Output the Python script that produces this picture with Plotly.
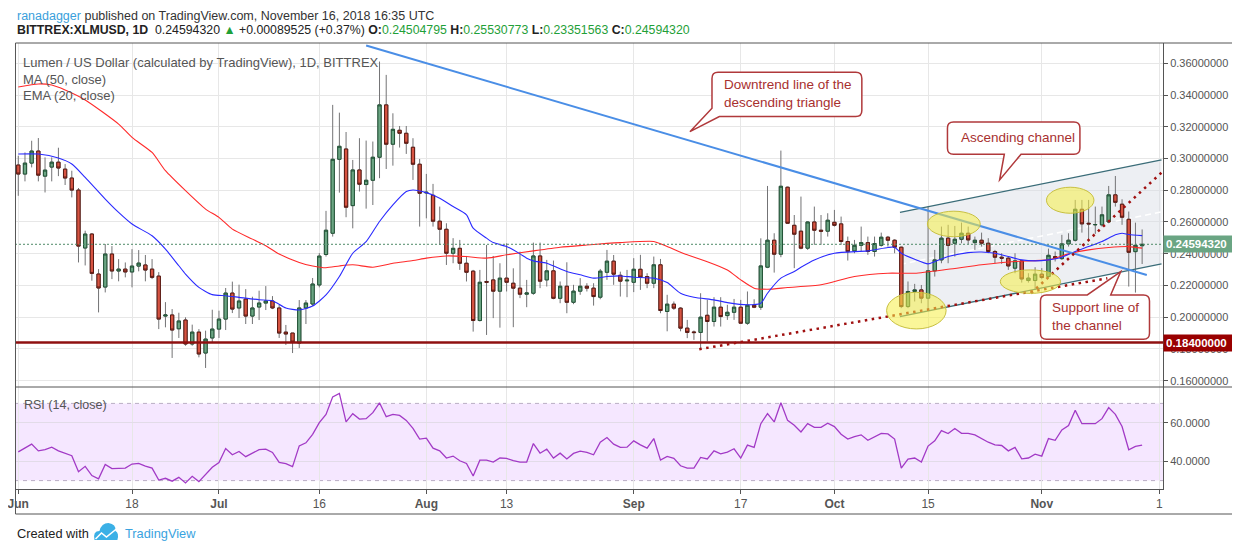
import numpy as np
import pandas as pd
import plotly.graph_objects as go

# ---------------- DATA ----------------
start = pd.Timestamp("2018-06-01")
dates = pd.date_range("2018-06-01", "2018-11-16", freq="D")

opens = [0.2959, 0.2902, 0.2971, 0.3047, 0.2889, 0.2946, 0.2977, 0.2933, 0.2877, 0.2801,
         0.2436, 0.2524, 0.2272, 0.2190, 0.2398, 0.2291, 0.2303, 0.2285, 0.2322, 0.2329,
         0.2303, 0.2259, 0.2007, 0.2014, 0.1927, 0.1982, 0.1831, 0.1906, 0.1774, 0.1869,
         0.1925, 0.1988, 0.2152, 0.2058, 0.2114, 0.2007, 0.2064, 0.2089, 0.2102, 0.2058,
         0.1906, 0.1900, 0.1837, 0.2058, 0.2083, 0.2203, 0.2395, 0.2529, 0.2995, 0.3060,
         0.2703, 0.2928, 0.2836, 0.2863, 0.3008, 0.3338, 0.3090, 0.3178, 0.3159, 0.3071,
         0.2964, 0.2783, 0.2768, 0.2605, 0.2554, 0.2403, 0.2434, 0.2340, 0.2290, 0.1979,
         0.2225, 0.2235, 0.2164, 0.2246, 0.2214, 0.2183, 0.2145, 0.2151, 0.2386, 0.2235,
         0.2292, 0.2119, 0.2195, 0.2094, 0.2164, 0.2195, 0.2183, 0.2126, 0.2283, 0.2353,
         0.2264, 0.2229, 0.2220, 0.2302, 0.2256, 0.2214, 0.2330, 0.2036, 0.2082, 0.2057,
         0.1931, 0.1907, 0.1904, 0.2012, 0.1973, 0.2063, 0.2010, 0.2031, 0.2063, 0.1962,
         0.2075, 0.2063, 0.2315, 0.2485, 0.2397, 0.2819, 0.2579, 0.2542, 0.2435, 0.2600,
         0.2548, 0.2542, 0.2598, 0.2588, 0.2477, 0.2418, 0.2453, 0.2470, 0.2414, 0.2453,
         0.2504, 0.2485, 0.2441, 0.2067, 0.2162, 0.2172, 0.2120, 0.2292, 0.2361, 0.2498,
         0.2466, 0.2491, 0.2529, 0.2470, 0.2485, 0.2466, 0.2414, 0.2378, 0.2372, 0.2309,
         0.2355, 0.2231, 0.2231, 0.2271, 0.2256, 0.2382, 0.2369, 0.2462, 0.2485, 0.2680,
         0.2592, 0.2582, 0.2582, 0.2600, 0.2771, 0.2712, 0.2617, 0.2413, 0.24504795]
highs = [0.3017, 0.3038, 0.3112, 0.3129, 0.3007, 0.3007, 0.3068, 0.2965, 0.2923, 0.2814,
         0.2545, 0.2530, 0.2303, 0.2461, 0.2448, 0.2366, 0.2345, 0.2429, 0.2423, 0.2392,
         0.2366, 0.2284, 0.2095, 0.2051, 0.2028, 0.1999, 0.1953, 0.1925, 0.1915, 0.2047,
         0.2041, 0.2184, 0.2224, 0.2205, 0.2177, 0.2129, 0.2167, 0.2196, 0.2133, 0.2077,
         0.1951, 0.1900, 0.2108, 0.2108, 0.2247, 0.2404, 0.2670, 0.3338, 0.3289, 0.3167,
         0.2991, 0.3128, 0.3113, 0.3107, 0.3611, 0.3527, 0.3285, 0.3205, 0.3205, 0.3128,
         0.2997, 0.2903, 0.2840, 0.2697, 0.2592, 0.2498, 0.2487, 0.2386, 0.2298, 0.2298,
         0.2455, 0.2386, 0.2340, 0.2466, 0.2308, 0.2413, 0.2235, 0.2470, 0.2470, 0.2361,
         0.2357, 0.2225, 0.2346, 0.2204, 0.2246, 0.2214, 0.2214, 0.2304, 0.2424, 0.2392,
         0.2287, 0.2298, 0.2372, 0.2393, 0.2277, 0.2382, 0.2367, 0.2141, 0.2099, 0.2063,
         0.1983, 0.1916, 0.2151, 0.2109, 0.2126, 0.2126, 0.2078, 0.2115, 0.2109, 0.2162,
         0.2113, 0.2497, 0.2827, 0.2529, 0.3050, 0.2823, 0.2644, 0.2760, 0.2605, 0.2697,
         0.2644, 0.2655, 0.2676, 0.2634, 0.2508, 0.2487, 0.2571, 0.2508, 0.2508, 0.2533,
         0.2512, 0.2491, 0.2445, 0.2225, 0.2210, 0.2203, 0.2697, 0.2424, 0.2571, 0.2582,
         0.2575, 0.2596, 0.2571, 0.2508, 0.2533, 0.2498, 0.2424, 0.2403, 0.2382, 0.2403,
         0.2361, 0.2277, 0.2315, 0.2309, 0.2432, 0.2414, 0.2519, 0.2529, 0.2739, 0.2739,
         0.2739, 0.2697, 0.2697, 0.2827, 0.2890, 0.2743, 0.2666, 0.2596, 0.25530773]
lows = [0.2765, 0.2856, 0.2944, 0.2856, 0.2786, 0.2856, 0.2889, 0.2833, 0.2755, 0.2345,
        0.2326, 0.2230, 0.2030, 0.2156, 0.2240, 0.2226, 0.2251, 0.2188, 0.2289, 0.2226,
        0.2240, 0.1925, 0.1936, 0.1743, 0.1869, 0.1820, 0.1820, 0.1747, 0.1680, 0.1837,
        0.1869, 0.1919, 0.2026, 0.1995, 0.1957, 0.1957, 0.1982, 0.2045, 0.2051, 0.1869,
        0.1825, 0.1774, 0.1806, 0.1957, 0.2070, 0.2188, 0.2382, 0.2508, 0.2785, 0.2630,
        0.2560, 0.2792, 0.2684, 0.2707, 0.2876, 0.2934, 0.2955, 0.3069, 0.3029, 0.2865,
        0.2571, 0.2623, 0.2571, 0.2455, 0.2329, 0.2340, 0.2298, 0.2225, 0.1909, 0.1973,
        0.1888, 0.1994, 0.1934, 0.2162, 0.1937, 0.2120, 0.2063, 0.2141, 0.2183, 0.2193,
        0.2113, 0.2088, 0.2025, 0.2082, 0.2141, 0.2162, 0.2073, 0.2113, 0.2235, 0.2204,
        0.2130, 0.2126, 0.2158, 0.2172, 0.2183, 0.2183, 0.2025, 0.1911, 0.2046, 0.1911,
        0.1868, 0.1857, 0.1805, 0.1847, 0.1941, 0.1941, 0.1983, 0.1983, 0.1958, 0.1952,
        0.2057, 0.2046, 0.2309, 0.2281, 0.2378, 0.2588, 0.2309, 0.2428, 0.2424, 0.2456,
        0.2456, 0.2508, 0.2571, 0.2456, 0.2357, 0.2403, 0.2414, 0.2393, 0.2382, 0.2445,
        0.2445, 0.2403, 0.2057, 0.2057, 0.2099, 0.2088, 0.2046, 0.2256, 0.2340, 0.2340,
        0.2382, 0.2466, 0.2460, 0.2424, 0.2445, 0.2403, 0.2340, 0.2336, 0.2298, 0.2277,
        0.2218, 0.2218, 0.2172, 0.2239, 0.2246, 0.2351, 0.2361, 0.2445, 0.2477, 0.2533,
        0.2487, 0.2525, 0.2571, 0.2592, 0.2697, 0.2582, 0.2193, 0.2155, 0.23351563]
closes = [0.2902, 0.2971, 0.3047, 0.2895, 0.2927, 0.2977, 0.2940, 0.2877, 0.2801, 0.2448,
          0.2524, 0.2276, 0.2184, 0.2398, 0.2291, 0.2303, 0.2285, 0.2322, 0.2341, 0.2297,
          0.2251, 0.1988, 0.2014, 0.1919, 0.1976, 0.1831, 0.1906, 0.1768, 0.1862, 0.1925,
          0.1988, 0.2152, 0.2051, 0.2102, 0.2007, 0.2058, 0.2089, 0.2102, 0.2058, 0.1900,
          0.1894, 0.1843, 0.2058, 0.2089, 0.2209, 0.2385, 0.2548, 0.2995, 0.3077, 0.2693,
          0.2928, 0.2838, 0.2863, 0.3008, 0.3338, 0.3090, 0.3184, 0.3159, 0.3096, 0.2964,
          0.2781, 0.2787, 0.2605, 0.2554, 0.2403, 0.2434, 0.2340, 0.2283, 0.1979, 0.2220,
          0.2220, 0.2164, 0.2246, 0.2220, 0.2183, 0.2145, 0.2153, 0.2386, 0.2227, 0.2292,
          0.2119, 0.2195, 0.2094, 0.2164, 0.2195, 0.2183, 0.2130, 0.2290, 0.2353, 0.2271,
          0.2227, 0.2233, 0.2302, 0.2252, 0.2214, 0.2330, 0.2042, 0.2082, 0.2057, 0.1931,
          0.1904, 0.1903, 0.2000, 0.1973, 0.2063, 0.2004, 0.2031, 0.2063, 0.1962, 0.2075,
          0.2063, 0.2323, 0.2485, 0.2397, 0.2825, 0.2592, 0.2523, 0.2435, 0.2600, 0.2548,
          0.2542, 0.2611, 0.2579, 0.2477, 0.2413, 0.2453, 0.2470, 0.2414, 0.2464, 0.2504,
          0.2485, 0.2441, 0.2067, 0.2162, 0.2172, 0.2120, 0.2292, 0.2361, 0.2498, 0.2453,
          0.2491, 0.2529, 0.2487, 0.2485, 0.2466, 0.2414, 0.2378, 0.2372, 0.2323, 0.2355,
          0.2241, 0.2246, 0.2271, 0.2250, 0.2390, 0.2372, 0.2462, 0.2485, 0.2680, 0.2588,
          0.2588, 0.2584, 0.2645, 0.2771, 0.2724, 0.2630, 0.2409, 0.2453, 0.24594320]

# MA (50) and EMA (20): day index since 2018-06-01 -> value
ma50_day = [0, 3, 5, 7, 10, 15, 17, 20, 22, 25, 28, 30, 32, 35, 37, 39, 42, 44, 46, 48,
            50, 53, 56, 59, 61, 64, 67, 70, 73, 77, 81, 85, 88, 90, 95, 97, 100, 103, 106,
            108, 110, 112, 115, 120, 125, 130, 134, 139, 144, 149, 154, 157, 160, 163, 166, 168]
ma50_val = [0.3451, 0.3470, 0.3463, 0.3432, 0.3369, 0.3217, 0.3133, 0.3038, 0.2923, 0.2797,
            0.2681, 0.2629, 0.2555, 0.2492, 0.2450, 0.2398, 0.2345, 0.2323, 0.2312, 0.2323,
            0.2330, 0.2315, 0.2340, 0.2357, 0.2372, 0.2386, 0.2382, 0.2372, 0.2393, 0.2418,
            0.2441, 0.2455, 0.2465, 0.2470, 0.2477, 0.2445, 0.2393, 0.2350, 0.2298, 0.2235,
            0.2183, 0.2176, 0.2187, 0.2204, 0.2256, 0.2277, 0.2277, 0.2302, 0.2330, 0.2351,
            0.2361, 0.2399, 0.2424, 0.2439, 0.2445, 0.2435]
ema20_day = [0, 3, 6, 8, 10, 13, 15, 17, 20, 22, 24, 25, 27, 29, 31, 33, 36, 38, 40, 42,
             44, 46, 48, 50, 52, 54, 56, 58, 59, 61, 63, 65, 67, 68, 70, 71, 73, 75, 76, 77,
             79, 82, 84, 86, 88, 90, 92, 95, 97, 99, 101, 104, 106, 109, 111, 112, 114, 116,
             117, 119, 122, 127, 130, 131, 132, 134, 136, 137, 139, 142, 144, 146, 148, 150,
             152, 154, 156, 158, 160, 162, 164, 165, 166, 168]
ema20_val = [0.3028, 0.3028, 0.3003, 0.2965, 0.2881, 0.2744, 0.2660, 0.2587, 0.2513, 0.2429,
             0.2324, 0.2272, 0.2188, 0.2142, 0.2135, 0.2125, 0.2110, 0.2104, 0.2058, 0.2045,
             0.2070, 0.2140, 0.2256, 0.2403, 0.2476, 0.2603, 0.2708, 0.2792, 0.2802, 0.2785,
             0.2750, 0.2697, 0.2645, 0.2561, 0.2498, 0.2470, 0.2445, 0.2399, 0.2372, 0.2355,
             0.2340, 0.2288, 0.2267, 0.2246, 0.2256, 0.2260, 0.2252, 0.2246, 0.2218, 0.2151,
             0.2126, 0.2109, 0.2092, 0.2078, 0.2088, 0.2151, 0.2246, 0.2288, 0.2315, 0.2361,
             0.2403, 0.2418, 0.2439, 0.2441, 0.2403, 0.2365, 0.2336, 0.2350, 0.2382, 0.2407,
             0.2411, 0.2403, 0.2382, 0.2361, 0.2355, 0.2361, 0.2378, 0.2414, 0.2445, 0.2477,
             0.2519, 0.2529, 0.2521, 0.2514]

# RSI (14)
rsi_day = [0, 2, 3, 4, 5, 6, 8, 9, 10, 11, 12, 13, 14, 15, 16, 17, 18, 19, 20, 21, 22, 23,
           24, 25, 26, 27, 28, 29, 30, 31, 32, 33, 34, 35, 36, 37, 38, 39, 40, 41, 42, 43,
           44, 45, 46, 47, 48, 49, 50, 51, 52, 53, 54, 55, 56, 57, 58, 59, 60, 61, 62, 63,
           64, 65, 66, 67, 68, 69, 70, 71, 72, 73, 74, 75, 76, 77, 78, 79, 80, 81, 82, 83,
           84, 85, 86, 87, 88, 89, 90, 91, 92, 93, 94, 95, 96, 97, 98, 99, 100, 101, 102,
           103, 104, 105, 106, 107, 108, 109, 110, 111, 112, 113, 114, 115, 116, 117, 118,
           119, 120, 121, 122, 123, 124, 125, 126, 127, 128, 129, 130, 131, 132, 133, 134,
           135, 136, 137, 138, 139, 140, 141, 142, 143, 145, 146, 147, 148, 149, 150, 151,
           152, 153, 154, 155, 156, 157, 158, 159, 160, 161, 162, 163, 164, 165, 166, 167, 168]
rsi_val = [44.9, 48.9, 45.4, 46.0, 47.3, 45.4, 42.9, 34.6, 37.4, 32.6, 30.9, 38.4, 36.2,
           36.5, 36.5, 38.6, 38.9, 37.5, 36.5, 30.3, 31.2, 29.7, 31.7, 28.8, 32.2, 29.5,
           33.4, 36.9, 39.4, 46.6, 43.4, 45.1, 42.4, 44.4, 46.0, 46.3, 44.6, 39.4, 38.8,
           37.2, 48.0, 49.6, 54.0, 60.0, 64.3, 73.4, 75.2, 60.4, 64.7, 61.9, 62.1, 65.2,
           70.3, 63.1, 64.3, 63.8, 61.2, 57.1, 51.5, 52.0, 46.8, 45.4, 41.7, 42.7, 40.3,
           38.9, 32.4, 40.6, 40.6, 39.6, 41.7, 41.5, 40.3, 39.6, 39.6, 49.2, 44.2, 46.3,
           41.7, 44.2, 41.2, 44.1, 45.3, 44.6, 43.4, 49.9, 52.3, 48.9, 47.2, 47.3, 50.6,
           48.5, 46.8, 51.8, 40.6, 42.5, 41.5, 37.7, 36.5, 36.5, 42.0, 41.2, 45.4, 43.9,
           44.8, 46.5, 41.7, 48.4, 47.2, 59.5, 64.7, 60.4, 70.3, 61.2, 58.7, 55.2, 59.5,
           57.6, 57.6, 59.7, 58.0, 54.0, 51.5, 52.8, 53.7, 50.9, 52.8, 54.5, 54.2, 51.5,
           36.5, 41.2, 41.7, 39.6, 47.9, 50.6, 55.9, 54.4, 57.0, 54.5, 54.5, 53.7, 49.9,
           48.5, 48.2, 45.4, 47.2, 41.3, 41.7, 43.7, 42.7, 51.8, 50.9, 56.3, 58.5, 66.4,
           59.5, 59.5, 59.5, 62.1, 67.8, 64.3, 58.0, 46.0, 47.7, 48.4]

tick_dates = ["2018-06-01", "2018-06-18", "2018-07-01", "2018-07-16", "2018-08-01",
              "2018-08-13", "2018-09-01", "2018-09-17", "2018-10-01", "2018-10-15",
              "2018-11-01", "2018-11-18 14:00"]
tick_text = ["<b>Jun</b>", "18", "<b>Jul</b>", "16", "<b>Aug</b>", "13", "<b>Sep</b>", "17",
             "<b>Oct</b>", "15", "<b>Nov</b>", "1"]

support_level = 0.184

# ---------------- helpers ----------------
def dayof(d):
    return (pd.Timestamp(d) - start) / pd.Timedelta(days=1)

x = np.array([dayof(d) for d in dates])
tick_x = [dayof(d) for d in tick_dates]
o = np.array(opens); h = np.array(highs); l = np.array(lows); c = np.array(closes)
last_price = closes[-1]

# page body has an 8px margin: figure is drawn offset by (8, 8) in the window
OFF = 8
W, H = 1240 - OFF, 551 - OFF
ML, MR, MT, MB = 0, 77, 43 - OFF, 62
PW, PH = W - ML - MR, H - MT - MB
def px(xs):          # screen x -> paper
    return (xs - OFF - ML) / PW
def py(ys):          # screen y -> paper
    return (H - MB - (ys - OFF)) / PH

SPLIT = py(387)
FONT = "Liberation Sans, Arial, sans-serif"
GRID = "#e7e7e7"
FRAME = "#555555"

UP_FILL, UP_LINE = "#6ba583", "#225437"
DN_FILL, DN_LINE = "#d75442", "#5b1a13"
WICK = "#737375"

fig = go.Figure()

# wicks
fig.add_trace(go.Candlestick(
    x=x, open=o, high=h, low=l, close=c, xaxis="x", yaxis="y",
    increasing=dict(line=dict(color=WICK, width=1), fillcolor=WICK),
    decreasing=dict(line=dict(color=WICK, width=1), fillcolor=WICK),
    whiskerwidth=0, hoverinfo="skip", showlegend=False))
# bodies
fig.add_trace(go.Candlestick(
    x=x, open=o, high=np.maximum(o, c), low=np.minimum(o, c), close=c, xaxis="x", yaxis="y",
    increasing=dict(line=dict(color=UP_LINE, width=1), fillcolor=UP_FILL),
    decreasing=dict(line=dict(color=DN_LINE, width=1), fillcolor=DN_FILL),
    whiskerwidth=0, showlegend=False))

fig.add_trace(go.Scatter(x=ma50_day, y=ma50_val, mode="lines", xaxis="x", yaxis="y",
                         line=dict(color="#ff2a2a", width=1.1, shape="spline", smoothing=0.6),
                         showlegend=False, hoverinfo="skip"))
fig.add_trace(go.Scatter(x=ema20_day, y=ema20_val, mode="lines", xaxis="x", yaxis="y",
                         line=dict(color="#2a2aff", width=1.1, shape="spline", smoothing=0.6),
                         showlegend=False, hoverinfo="skip"))
fig.add_trace(go.Scatter(x=rsi_day, y=rsi_val, mode="lines", xaxis="x", yaxis="y2",
                         line=dict(color="#a23ac6", width=1.3),
                         showlegend=False, hoverinfo="skip"))

shapes = []
# RSI band
shapes.append(dict(type="rect", xref="paper", yref="y2", x0=0, x1=1, y0=30, y1=70,
                   fillcolor="rgba(153,21,255,0.10)", line=dict(width=0), layer="between"))
for lvl in (30, 70):
    shapes.append(dict(type="line", xref="paper", yref="y2", x0=0, x1=1, y0=lvl, y1=lvl,
                       line=dict(color="#b9aec4", width=1, dash="4px,4px"), layer="between"))

# ascending channel
ch_x0, ch_x1 = 131.8, 170.9
ch_up0, ch_up1 = 0.2661, 0.2991
ch_lo0, ch_lo1 = 0.2004, 0.2336
shapes.append(dict(type="path", xref="x", yref="y",
                   path=f"M{ch_x0},{ch_up0} L{ch_x1},{ch_up1} L{ch_x1},{ch_lo1} L{ch_x0},{ch_lo0} Z",
                   fillcolor="rgba(215,220,228,0.45)", line=dict(width=0), layer="between"))
shapes.append(dict(type="line", xref="x", yref="y", x0=ch_x0, x1=ch_x1,
                   y0=(ch_up0 + ch_lo0) / 2, y1=(ch_up1 + ch_lo1) / 2,
                   line=dict(color="white", width=1.5, dash="6px,4px"), layer="between"))

# horizontal support and last price
shapes.append(dict(type="line", xref="paper", yref="y", x0=0, x1=1, y0=support_level, y1=support_level,
                   line=dict(color="#8f1010", width=2.5)))
shapes.append(dict(type="line", xref="paper", yref="y", x0=0, x1=1, y0=last_price, y1=last_price,
                   line=dict(color="#4e8a68", width=1, dash="2px,2px")))

# channel borders
shapes.append(dict(type="line", xref="x", yref="y", x0=ch_x0, x1=ch_x1, y0=ch_up0, y1=ch_up1,
                   line=dict(color="#3a6c78", width=1.3)))
shapes.append(dict(type="line", xref="x", yref="y", x0=ch_x0, x1=ch_x1, y0=ch_lo0, y1=ch_lo1,
                   line=dict(color="#3a6c78", width=1.3)))

# downtrend line
shapes.append(dict(type="line", xref="x", yref="y", x0=52.0, y0=0.3712, x1=168.7, y1=0.2266,
                   line=dict(color="#4a8ee6", width=2)))

# dotted support lines
shapes.append(dict(type="line", xref="x", yref="y", x0=101.8, y0=0.1798, x1=162.8, y1=0.2245,
                   line=dict(color="#a01010", width=2.5, dash="2.5px,4.5px")))
shapes.append(dict(type="line", xref="x", yref="y", x0=151.4, y0=0.2151, x1=170.9, y1=0.2911,
                   line=dict(color="#a01010", width=2.5, dash="2.5px,4.5px")))

# yellow ellipses
for (ex0, ex1, ey0, ey1) in [(129.8, 138.7, 0.1926, 0.2157), (135.9, 143.8, 0.2507, 0.2668),
                             (146.8, 155.8, 0.2150, 0.2298), (153.7, 160.8, 0.2655, 0.2819)]:
    shapes.append(dict(type="circle", xref="x", yref="y", x0=ex0, x1=ex1, y0=ey0, y1=ey1,
                       fillcolor="rgba(245,238,70,0.55)", line=dict(color="#c8c040", width=1)))

# callouts
RX, RY = 0.9, 0.0038
def box_path(x0, x1, y0, y1, tail=None, kind=None):
    if kind == "bottomleft":
        yl, xb, tx, ty = tail
        return (f"M{x0+RX},{y1} L{x1-RX},{y1} Q{x1},{y1} {x1},{y1-RY} L{x1},{y0+RY} "
                f"Q{x1},{y0} {x1-RX},{y0} L{xb},{y0} L{tx},{ty} L{x0},{yl} L{x0},{y1-RY} "
                f"Q{x0},{y1} {x0+RX},{y1} Z")
    if kind == "bottom":
        b1, b2, tx, ty = tail
        return (f"M{x0+RX},{y1} L{x1-RX},{y1} Q{x1},{y1} {x1},{y1-RY} L{x1},{y0+RY} "
                f"Q{x1},{y0} {x1-RX},{y0} L{b2},{y0} L{tx},{ty} L{b1},{y0} L{x0+RX},{y0} "
                f"Q{x0},{y0} {x0},{y0+RY} L{x0},{y1-RY} Q{x0},{y1} {x0+RX},{y1} Z")
    b1, b2, tx, ty = tail
    return (f"M{x0+RX},{y1} L{b1},{y1} L{tx},{ty} L{b2},{y1} L{x1-RX},{y1} "
            f"Q{x1},{y1} {x1},{y1-RY} L{x1},{y0+RY} Q{x1},{y0} {x1-RX},{y0} L{x0+RX},{y0} "
            f"Q{x0},{y0} {x0},{y0+RY} L{x0},{y1-RY} Q{x0},{y1} {x0+RX},{y1} Z")

CALL_LINE = "#b0393b"
shapes.append(dict(type="path", xref="x", yref="y",
                   path=box_path(103.7, 126.1, 0.3264, 0.3543, (0.3317, 104.8, 100.4, 0.3169), "bottomleft"),
                   fillcolor="white", line=dict(color=CALL_LINE, width=1.5)))
shapes.append(dict(type="path", xref="x", yref="y",
                   path=box_path(138.9, 158.7, 0.3027, 0.3230, (147.4, 149.9, 146.7, 0.2865), "bottom"),
                   fillcolor="white", line=dict(color=CALL_LINE, width=1.5)))
shapes.append(dict(type="path", xref="x", yref="y",
                   path=box_path(152.8, 169.1, 0.1861, 0.2140, (159.8, 163.3, 164.8, 0.2287), "top"),
                   fillcolor="white", line=dict(color=CALL_LINE, width=1.5)))

# frame
def pline(x0, y0, x1, y1, color=FRAME, width=1):
    return dict(type="line", xref="paper", yref="paper", x0=px(x0), y0=py(y0), x1=px(x1), y1=py(y1),
                line=dict(color=color, width=width))
shapes += [pline(8.5, 43, 1235, 43), pline(8.5, 514, 1235, 514), pline(8.5, 43, 8.5, 514),
           pline(1235, 43, 1235, 514), pline(8.5, 387, 1235, 387)]

# TradingView logo
def pp(a, b):
    return f"{px(a)},{py(b)}"
shapes.append(dict(type="path", xref="paper", yref="paper",
                   path=(f"M{pp(88,540)} Q{pp(86,531)} {pp(93,531)} Q{pp(95,523)} {pp(102,523)} "
                         f"Q{pp(110,524)} {pp(109,531)} Q{pp(113,533)} {pp(111,540)} Z"),
                   fillcolor="#3bb0e6", line=dict(width=0)))
shapes.append(dict(type="path", xref="paper", yref="paper",
                   path=f"M{pp(89,539)} L{pp(95,533)} L{pp(100,537)} L{pp(110,529)}",
                   line=dict(color="white", width=1.6)))

annotations = []
def ptext(xs, ys, text, size=13, color="#333", anchor="left", family=FONT):
    annotations.append(dict(xref="paper", yref="paper", x=px(xs), y=py(ys), text=text,
                            showarrow=False, xanchor=anchor, yanchor="middle",
                            font=dict(family=family, size=size, color=color)))

G = "#1fa038"
ptext(8, 15.5, "<span style='color:#3a9fdc'>ranadagger</span> published on TradingView.com, "
               "November 16, 2018 16:35 UTC", size=12.5, color="#333")
ptext(8, 30, "<b>BITTREX:XLMUSD, 1D</b>  0.24594320 "
             f"<span style='color:{G}'>▲</span> +0.00089525 (+0.37%) "
             f"<b>O:</b><span style='color:{G}'>0.24504795</span> "
             f"<b>H:</b><span style='color:{G}'>0.25530773</span> "
             f"<b>L:</b><span style='color:{G}'>0.23351563</span> "
             f"<b>C:</b><span style='color:{G}'>0.24594320</span>", size=12.3, color="#222")
ptext(14, 62, "Lumen / US Dollar (calculated by TradingView), 1D, BITTREX", size=13, color="#555")
ptext(14, 79, "MA (50, close)", size=13, color="#555")
ptext(14, 95, "EMA (20, close)", size=13, color="#555")
ptext(15, 405, "RSI (14, close)", size=12.5, color="#555")
ptext(8, 533, "Created with", size=12.8, color="#222")
ptext(117, 533, "TradingView", size=12.8, color="#3aa3e0")

CALL_TEXT = "#a8302f"
for (tx, ty, txt) in [(105.2, 0.3410, "Downtrend line of the<br>descending triangle"),
                      (140.6, 0.3131, "Ascending channel"),
                      (154.3, 0.2004, "Support line of<br>the channel")]:
    annotations.append(dict(xref="x", yref="y", x=tx, y=ty, text=txt, showarrow=False,
                            xanchor="left", yanchor="middle", align="left",
                            font=dict(family=FONT, size=13.5, color=CALL_TEXT)))

for (val, bg) in [(last_price, "#6aa583"), (support_level, "#990000")]:
    annotations.append(dict(xref="paper", yref="y", x=1, y=val, text=f"<b>{val:.8f}</b>",
                            showarrow=False, xanchor="left", yanchor="middle", align="left",
                            bgcolor=bg, borderpad=2, width=66,
                            font=dict(family=FONT, size=11.5, color="white")))

x_left = (OFF + ML - 11.3) / 6.73
fig.update_layout(
    width=W, height=H, autosize=False,
    margin=dict(l=ML, r=MR, t=MT, b=MB, pad=0),
    paper_bgcolor="white", plot_bgcolor="white",
    showlegend=False, boxgap=0.3,
    xaxis=dict(domain=[0, 1], range=[x_left, 171.12], anchor="y2",
               tickmode="array", tickvals=tick_x, ticktext=tick_text,
               ticks="outside", ticklen=4, tickcolor=FRAME, ticklabeloverflow="allow",
               showline=True, linecolor=FRAME, linewidth=1,
               showgrid=True, gridcolor=GRID, zeroline=False,
               tickfont=dict(family=FONT, size=12, color="#555"),
               rangeslider=dict(visible=False), fixedrange=True),
    yaxis=dict(domain=[SPLIT, 1], range=[0.1560, 0.3728], side="right", anchor="x",
               tick0=0.16, dtick=0.02, tickformat=".8f",
               ticks="outside", ticklen=4, tickcolor=FRAME,
               showline=True, linecolor=FRAME, linewidth=1,
               showgrid=True, gridcolor=GRID, zeroline=False,
               tickfont=dict(family=FONT, size=11, color="#555")),
    yaxis2=dict(domain=[0, SPLIT], range=[25.65, 78.5], side="right", anchor="x",
                tickmode="array", tickvals=[40, 60], tickformat=".4f",
                ticks="outside", ticklen=4, tickcolor=FRAME,
                showline=True, linecolor=FRAME, linewidth=1,
                showgrid=True, gridcolor="#e2dbe8", zeroline=False,
                tickfont=dict(family=FONT, size=11, color="#555")),
    shapes=shapes, annotations=annotations,
)

fig.write_html("out.html")
